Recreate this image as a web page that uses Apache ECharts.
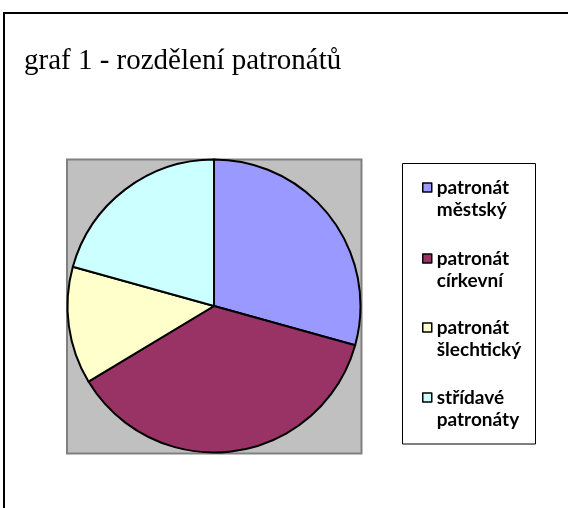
<!DOCTYPE html>
<html>
<head>
<meta charset="utf-8">
<script src="https://cdn.jsdelivr.net/npm/echarts@6/dist/echarts.min.js"></script>
<style>
  html, body { margin: 0; padding: 0; background: #ffffff; }
  #chart { width: 568px; height: 508px; }
</style>
</head>
<body>
<div id="chart"></div>
<script>
// Patronage types and their counts
const categories = ['patronát městský', 'patronát církevní', 'patronát šlechtický', 'střídavé patronáty'];
const legendLabels = ['patronát\nměstský', 'patronát\ncírkevní', 'patronát\nšlechtický', 'střídavé\npatronáty'];
const values = [34, 43, 15, 24];
const colors = ['#9999FF', '#993366', '#FFFFCC', '#CCFFFF'];
const chartTitle = 'graf 1 - rozdělení patronátů';

// vertical centre of each legend marker
const legendRows = [187.5, 258.5, 327.5, 397.5];
const lineH = 22;

const chart = echarts.init(document.getElementById('chart'), null, { renderer: 'canvas' });

// one legend block per entry; a blank leading line keeps the marker
// beside the first line of the two-line label
const legends = categories.map((name, i) => ({
  data: [name],
  orient: 'vertical',
  left: 422,
  top: legendRows[i] - 1.5 * lineH,
  padding: 0,
  itemWidth: 9,
  itemHeight: 9,
  selectedMode: false,
  icon: 'rect',
  itemStyle: { borderColor: '#000000', borderWidth: 1.5 },
  formatter: () => ' \n' + legendLabels[i],
  textStyle: {
    fontFamily: 'Lato',
    fontWeight: 'bold',
    fontSize: 19,
    color: '#000000',
    lineHeight: lineH
  }
}));

chart.setOption({
  animation: false,
  title: {
    text: chartTitle,
    left: 24,
    top: 47,
    padding: 0,
    textStyle: {
      fontFamily: 'Liberation Serif',
      fontWeight: 'normal',
      fontSize: 29,
      color: '#000000'
    }
  },
  graphic: [
    { type: 'rect', z: -10, shape: { x: 4, y: 13, width: 700, height: 700 },
      style: { fill: 'none', stroke: '#000000', lineWidth: 2 } },
    { type: 'rect', z: -10, shape: { x: 67, y: 159.5, width: 294.5, height: 294 },
      style: { fill: '#C0C0C0', stroke: '#808080', lineWidth: 2 } },
    { type: 'rect', z: -10, shape: { x: 402.5, y: 163.5, width: 133, height: 280.5 },
      style: { fill: '#ffffff', stroke: '#000000', lineWidth: 1 } }
  ],
  color: colors,
  legend: legends,
  series: [{
    type: 'pie',
    center: [214, 306],
    radius: 146.5,
    startAngle: 90,
    clockwise: true,
    label: { show: false },
    labelLine: { show: false },
    emphasis: { disabled: true },
    itemStyle: { borderColor: '#000000', borderWidth: 2 },
    data: categories.map((name, i) => ({ name, value: values[i] }))
  }]
});
</script>
</body>
</html>
